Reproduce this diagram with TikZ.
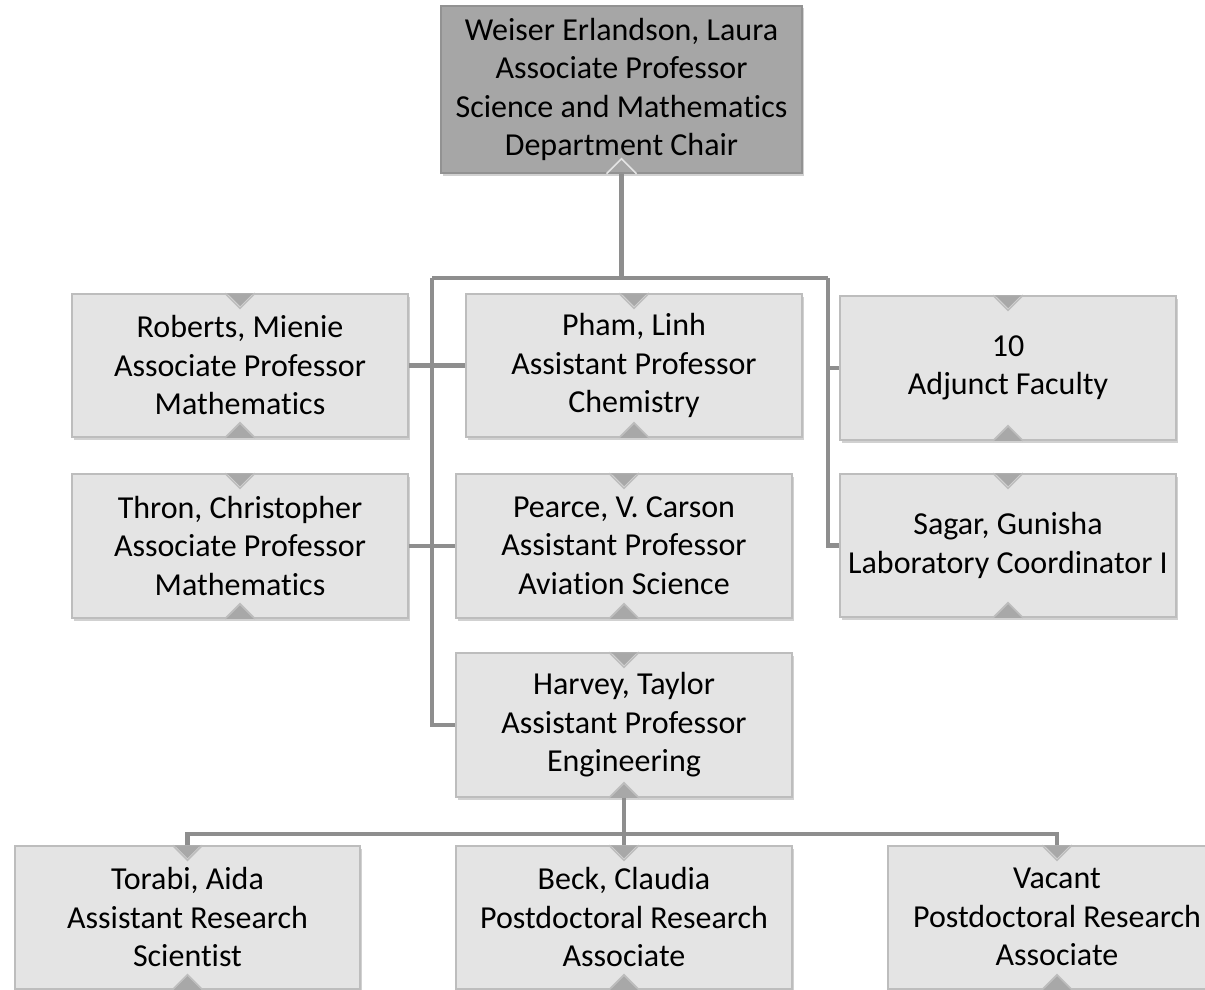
\documentclass[tikz,border=0pt]{standalone}
\usepackage{fontspec}
\setmainfont{Carlito}[Ligatures=NoCommon]
\usetikzlibrary{calc,shadows}

\definecolor{boxfill}{HTML}{E4E4E4}
\definecolor{boxline}{HTML}{BDBDBD}
\definecolor{chairfill}{HTML}{A6A6A6}
\definecolor{chairline}{HTML}{929292}
\definecolor{linkgray}{HTML}{8E8E8E}
\definecolor{notchgray}{HTML}{A8A8A8}

% notches at the top and the bottom of a box
\newcommand\boxnotches[1]{%
	\fill[notchgray] ($(#1.north)+(-13,0)$) -- ($(#1.north)+(13,0)$) -- ($(#1.north)+(0,13)$) -- cycle;
	\draw[boxline, line width=1.5pt] ($(#1.north)+(-15,0)$) -- ($(#1.north)+(0,15)$) -- ($(#1.north)+(15,0)$);
	\fill[notchgray] ($(#1.south)+(-14,0)$) -- ($(#1.south)+(14,0)$) -- ($(#1.south)+(0,-14)$) -- cycle;
	\draw[boxline, line width=1.5pt] ($(#1.south)+(-15,0)$) -- ($(#1.south)+(0,-15)$) -- ($(#1.south)+(15,0)$);
}

\begin{document}
\begin{tikzpicture}[x=1pt, y=-1pt,
		person/.style={draw=boxline, fill=boxfill, line width=1.5pt, minimum width=336pt, minimum height=143pt, align=center, inner sep=0pt, font=\fontsize{32}{38.5}\selectfont, execute at begin node={\rule{0pt}{26pt}}, execute at end node={\rule[-1pt]{0pt}{1pt}}, drop shadow={shadow xshift=1.5pt, shadow yshift=-2.5pt, opacity=0.18, fill=black}},
		chairbox/.style={person, draw=chairline, fill=chairfill, minimum width=361pt, minimum height=167pt},
		link/.style={draw=linkgray, line width=4.5pt}]
		
		\clip (0,0) rectangle (1205,990);
		
		\node [chairbox] (chair) at (621.5,89.5) {Weiser Erlandson, Laura\\Associate Professor\\Science and Mathematics\\Department Chair};
		
		\node [person] (roberts) at (240,365.5) {Roberts, Mienie\\Associate Professor\\Mathematics};
		\node [person] (pham) at (634,365.5) {Pham, Linh\\Assistant Professor\\Chemistry};
		\node [person, minimum height=144pt] (adjunct) at (1008,368) {10\\Adjunct Faculty};
		
		\node [person, minimum height=144pt] (thron) at (240,546) {Thron, Christopher\\Associate Professor\\Mathematics};
		\node [person, minimum height=144pt] (pearce) at (624,546) {Pearce, V. Carson\\Assistant Professor\\Aviation Science};
		\node [person] (sagar) at (1008,545.5) {Sagar, Gunisha\\Laboratory Coordinator I};
		
		\node [person, minimum height=144pt] (harvey) at (624,725) {Harvey, Taylor\\Assistant Professor\\Engineering};
		
		\node [person, minimum width=345pt] (torabi) at (187.5,917.5) {Torabi, Aida\\Assistant Research\\Scientist};
		\node [person] (beck) at (624,917.5) {Beck, Claudia\\Postdoctoral Research\\Associate};
		\node [person, minimum width=338pt] (vacant) at (1057,917.5) {Vacant\\Postdoctoral Research\\Associate};
		
		\foreach \n in {roberts,pham,adjunct,thron,pearce,sagar,harvey,torabi,beck,vacant}
			{\boxnotches{\n}}
		
		% chair notch
		\draw[draw=boxfill, line width=1.5pt] ($(chair.south)+(-15,0)$) -- ($(chair.south)+(0,-15)$) -- ($(chair.south)+(15,0)$);
		
		% links from the chair
		\coordinate (bar) at (621.5,278);
		\draw[link] (chair.south) -- (bar);
		\draw[link] (432,278) -- (828,278);
		\draw[link] (432,278) |- (harvey.west);
		\draw[link] (roberts.east) -- (pham.west);
		\draw[link] (thron.east) -- (pearce.west);
		\draw[link] (828,278) |- (adjunct.west);
		\draw[link] (828,278) |- (sagar.west);
		
		% links from harvey
		\coordinate (lowbar) at (624,834);
		\draw[link] (harvey.south) -- (beck.north);
		\draw[link] (torabi.north) |- (lowbar) -| (vacant.north);
		
	\end{tikzpicture}
\end{document}
